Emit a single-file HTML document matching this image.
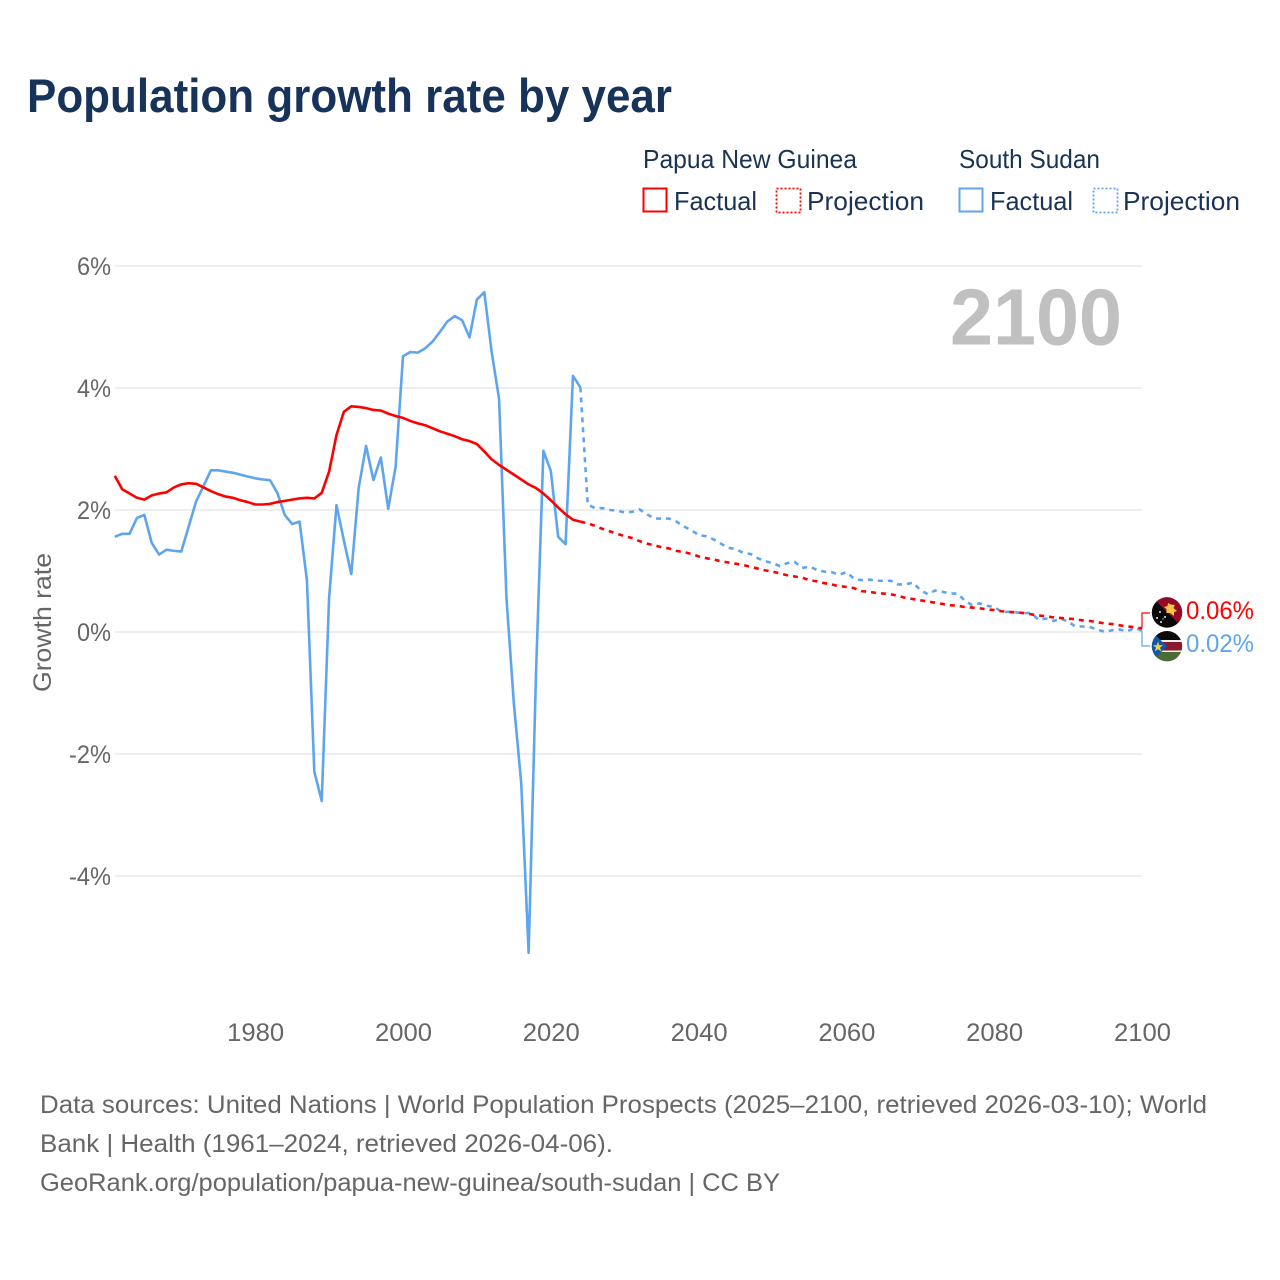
<!DOCTYPE html>
<html lang="en">
<head>
<meta charset="utf-8">
<title>Population growth rate by year</title>
<style>
html,body{margin:0;padding:0;background:#fff;}
svg{display:block;font-family:"Liberation Sans",sans-serif;}
</style>
</head>
<body>
<svg id="chart" xmlns="http://www.w3.org/2000/svg" width="1280" height="1280" viewBox="0 0 1280 1280">
  <rect width="1280" height="1280" fill="#fff"/>
  <text x="27" y="112" font-size="47" font-weight="700" fill="#18335a" textLength="645" lengthAdjust="spacingAndGlyphs">Population growth rate by year</text>

  <g font-size="26" fill="#1a3354">
    <text x="643" y="168" textLength="214" lengthAdjust="spacingAndGlyphs">Papua New Guinea</text>
    <text x="959" y="168" textLength="141" lengthAdjust="spacingAndGlyphs">South Sudan</text>
    <rect x="643.5" y="188.5" width="23" height="23" fill="none" stroke="#ff0000" stroke-width="2"/>
    <text x="674" y="210" textLength="83" lengthAdjust="spacingAndGlyphs">Factual</text>
    <rect x="776.5" y="188.5" width="24" height="24" fill="none" stroke="#ff0000" stroke-width="1.8" stroke-dasharray="2 2"/>
    <text x="807" y="210" textLength="117" lengthAdjust="spacingAndGlyphs">Projection</text>
    <rect x="959.5" y="188.5" width="23" height="23" fill="none" stroke="#5ea5ee" stroke-width="2"/>
    <text x="990" y="210" textLength="83" lengthAdjust="spacingAndGlyphs">Factual</text>
    <rect x="1093.5" y="188.5" width="24" height="24" fill="none" stroke="#5ea5ee" stroke-width="1.8" stroke-dasharray="2 2"/>
    <text x="1123" y="210" textLength="117" lengthAdjust="spacingAndGlyphs">Projection</text>
  </g>

  <g id="grid"></g>
  <g id="yticks" font-size="25" fill="#666" text-anchor="end"></g>
  <g id="xticks" font-size="25" fill="#666" text-anchor="middle"></g>

  <text transform="translate(51,692) rotate(-90)" font-size="25" fill="#666" textLength="139" lengthAdjust="spacingAndGlyphs">Growth rate</text>
  <text x="950" y="344.5" font-size="80" font-weight="700" fill="#c0c0c0" textLength="172" lengthAdjust="spacingAndGlyphs">2100</text>

  <g id="series"></g>
  <g id="connectors"></g>

  <defs>
    <clipPath id="clip-png"><circle cx="1167" cy="612.5" r="15.2"/></clipPath>
    <clipPath id="clip-ss"><circle cx="1167" cy="646.2" r="15.2"/></clipPath>
  </defs>
  <g clip-path="url(#clip-png)">
    <rect x="1150" y="595" width="34" height="36" fill="#0a0a0a"/>
    <polygon points="1152,597 1183,597 1183,628" fill="#930c26"/>
    <polygon points="1168,603 1171,604.5 1175,605 1173.5,608 1177,611 1174,612 1174,616 1170,613 1166.5,613 1166.5,609 1164,607 1167.5,606" fill="#f6c544"/>
    <g fill="#e6e6e6">
      <circle cx="1160" cy="612" r="1"/><circle cx="1157" cy="618" r="1"/><circle cx="1165" cy="617" r="1"/><circle cx="1161" cy="622" r="1"/><circle cx="1163" cy="619" r=".6"/>
    </g>
  </g>
  <g clip-path="url(#clip-ss)">
    <rect x="1150" y="630" width="34" height="11" fill="#0a0a0a"/>
    <rect x="1150" y="640" width="34" height="12.5" fill="#f0eeee"/>
    <rect x="1150" y="642" width="34" height="8.5" fill="#8a1a2c"/>
    <rect x="1150" y="652" width="34" height="11" fill="#4a6d34"/>
    <polygon points="1150,630 1167,646.2 1150,663" fill="#1058a8"/>
    <polygon points="1158,641.5 1159.3,645.3 1163,645.3 1160,647.6 1161.2,651.5 1158,649.2 1154.8,651.5 1156,647.6 1153,645.3 1156.7,645.3" fill="#f5cf4a"/>
  </g>
  <g id="endlabels" font-size="25"></g>

  <g font-size="25" fill="#666">
    <text x="40" y="1113" textLength="1167" lengthAdjust="spacingAndGlyphs">Data sources: United Nations | World Population Prospects (2025–2100, retrieved 2026-03-10); World</text>
    <text x="40" y="1152" textLength="573" lengthAdjust="spacingAndGlyphs">Bank | Health (1961–2024, retrieved 2026-04-06).</text>
    <text x="40" y="1191" textLength="740" lengthAdjust="spacingAndGlyphs">GeoRank.org/population/papua-new-guinea/south-sudan | CC BY</text>
  </g>
</svg>

<script>
const factualStartYear = 1961;
const projectionStartYear = 2025;
const xTickYears = [1980, 2000, 2020, 2040, 2060, 2080, 2100];
const yTickValues = [6, 4, 2, 0, -2, -4];

const pngFactual = [
  2.56,2.34,2.27,2.20,2.17,2.24,2.27,2.29,2.37,2.42,
  2.44,2.43,2.37,2.31,2.26,2.22,2.20,2.16,2.13,2.09,
  2.09,2.10,2.13,2.15,2.17,2.19,2.20,2.19,2.28,2.63,
  3.23,3.61,3.70,3.69,3.67,3.64,3.63,3.58,3.54,3.51,
  3.46,3.42,3.39,3.34,3.29,3.25,3.21,3.16,3.13,3.08,
  2.96,2.83,2.74,2.66,2.58,2.50,2.42,2.36,2.27,2.16,
  2.04,1.93,1.84,1.81
];
const ssFactual = [
  1.56,1.61,1.61,1.87,1.92,1.46,1.27,1.35,1.33,1.32,
  1.73,2.14,2.39,2.65,2.65,2.63,2.61,2.58,2.55,2.52,
  2.50,2.49,2.28,1.92,1.77,1.81,0.85,-2.29,-2.77,0.56,
  2.08,1.50,0.95,2.36,3.05,2.49,2.86,2.02,2.71,4.52,
  4.59,4.58,4.65,4.76,4.92,5.09,5.18,5.11,4.83,5.45,
  5.57,4.59,3.82,0.56,-1.17,-2.48,-5.26,-0.67,2.97,2.64,
  1.56,1.44,4.20,4.01
];
const pngProjection = [
  1.78,1.74,1.69,1.65,1.61,1.57,1.54,1.49,1.45,1.42,
  1.39,1.37,1.33,1.31,1.28,1.24,1.21,1.19,1.16,1.14,
  1.12,1.10,1.07,1.04,1.01,0.99,0.96,0.93,0.91,0.89,
  0.85,0.83,0.80,0.78,0.75,0.74,0.72,0.67,0.66,0.64,
  0.63,0.62,0.59,0.56,0.54,0.52,0.50,0.48,0.46,0.44,
  0.43,0.41,0.40,0.39,0.37,0.36,0.34,0.33,0.32,0.31,
  0.29,0.27,0.26,0.24,0.23,0.22,0.21,0.19,0.18,0.16,
  0.14,0.13,0.11,0.09,0.08,0.06
];
const ssProjection = [
  2.09,2.03,2.03,2.00,1.99,1.96,1.97,2.01,1.93,1.86,
  1.86,1.86,1.81,1.73,1.67,1.59,1.57,1.52,1.45,1.38,
  1.36,1.30,1.28,1.21,1.16,1.13,1.08,1.13,1.15,1.05,
  1.07,1.02,0.99,0.98,0.94,0.98,0.88,0.85,0.86,0.84,
  0.84,0.84,0.78,0.78,0.81,0.69,0.62,0.68,0.66,0.63,
  0.63,0.52,0.44,0.47,0.43,0.41,0.33,0.33,0.32,0.31,
  0.31,0.20,0.22,0.18,0.22,0.17,0.09,0.09,0.08,0.04,
  0.00,0.03,0.04,0.01,0.07,0.02
];

const NS = 'http://www.w3.org/2000/svg';
const RED = '#ff0000';
const BLUE = '#5ea5ee';

function xScale(year) { return 1142 - (2100 - year) * 7.39; }
function yScale(value) { return 632 - value * 61; }

function pathFrom(startYear, values, prevYear, prevValue) {
  const pts = [];
  if (prevYear !== undefined) pts.push([xScale(prevYear), yScale(prevValue)]);
  values.forEach(function (v, i) { pts.push([xScale(startYear + i), yScale(v)]); });
  return pts.map(function (p, i) { return (i ? 'L' : 'M') + p[0].toFixed(2) + ' ' + p[1].toFixed(2); }).join('');
}

const gridGroup = document.getElementById('grid');
const yTickGroup = document.getElementById('yticks');
yTickValues.forEach(function (v) {
  const line = document.createElementNS(NS, 'line');
  
  
  line.setAttribute('x1', 115);
  line.setAttribute('x2', xScale(2100));
  line.setAttribute('y1', yScale(v));
  line.setAttribute('y2', yScale(v));
  line.setAttribute('stroke', '#eeeeee');
  line.setAttribute('stroke-width', 2);
  gridGroup.appendChild(line);

  const label = document.createElementNS(NS, 'text');
  
  
  label.setAttribute('x', 111);
  label.setAttribute('y', yScale(v) + 9);
  label.setAttribute('textLength', v < 0 ? 42 : 34);
  label.setAttribute('lengthAdjust', 'spacingAndGlyphs');
  label.textContent = v + '%';
  yTickGroup.appendChild(label);
});

const xTickGroup = document.getElementById('xticks');
xTickYears.forEach(function (year) {
  const label = document.createElementNS(NS, 'text');
  
  
  label.setAttribute('x', xScale(year) + 0.5);
  label.setAttribute('y', 1041);
  label.setAttribute('textLength', 57);
  label.setAttribute('lengthAdjust', 'spacingAndGlyphs');
  label.textContent = year;
  xTickGroup.appendChild(label);
});

const seriesGroup = document.getElementById('series');
function addLine(d, color, dash, name) {
  const p = document.createElementNS(NS, 'path');
  
  
  p.setAttribute('d', d);
  p.setAttribute('fill', 'none');
  p.setAttribute('stroke', color);
  p.setAttribute('stroke-width', 2.6);
  p.setAttribute('stroke-linejoin', 'round');
  if (dash) p.setAttribute('stroke-dasharray', dash);
  seriesGroup.appendChild(p);
}
const lastYear = projectionStartYear - 1;
addLine(pathFrom(factualStartYear, ssFactual), BLUE, null, 'line-south-sudan-factual');
addLine(pathFrom(projectionStartYear, ssProjection, lastYear, ssFactual[ssFactual.length - 1]), BLUE, '5 5', 'line-south-sudan-projection');
addLine(pathFrom(factualStartYear, pngFactual), RED, null, 'line-png-factual');
addLine(pathFrom(projectionStartYear, pngProjection, lastYear, pngFactual[pngFactual.length - 1]), RED, '5 5', 'line-png-projection');

const connectorGroup = document.getElementById('connectors');
const endLabelGroup = document.getElementById('endlabels');
function addEnd(value, labelY, color, name) {
  const c = document.createElementNS(NS, 'path');
  
  
  c.setAttribute('d', 'M' + xScale(2100) + ' ' + yScale(value).toFixed(2) + 'V' + labelY + 'H1150');
  c.setAttribute('fill', 'none');
  c.setAttribute('stroke', color);
  c.setAttribute('stroke-width', 1.2);
  connectorGroup.appendChild(c);

  const t = document.createElementNS(NS, 'text');
  
  
  t.setAttribute('x', 1186);
  t.setAttribute('y', labelY + 6);
  t.setAttribute('fill', color);
  t.setAttribute('textLength', 68);
  t.setAttribute('lengthAdjust', 'spacingAndGlyphs');
  t.textContent = value.toFixed(2) + '%';
  endLabelGroup.appendChild(t);
}
addEnd(pngProjection[pngProjection.length - 1], 613, RED, 'png');
addEnd(ssProjection[ssProjection.length - 1], 646, BLUE, 'south-sudan');
</script>
</body>
</html>
